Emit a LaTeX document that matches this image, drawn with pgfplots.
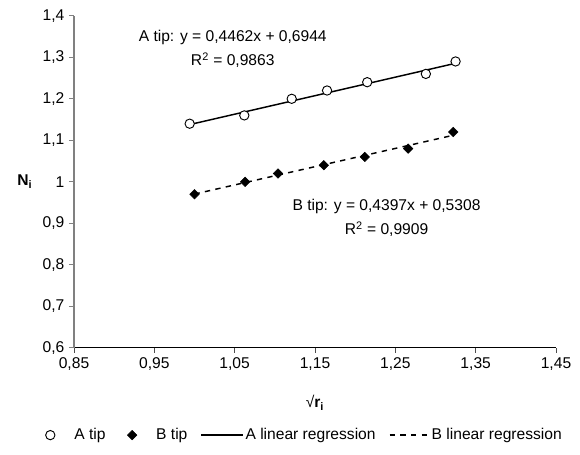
\documentclass[border=0pt]{standalone}
\usepackage{fontspec}
\setmainfont{Liberation Sans}
\usepackage{pgfplots}
\pgfplotsset{compat=1.18}

\newcommand{\chfont}{\fontsize{11.7}{14}\selectfont}

\pgfplotsset{
    markentry/.style={legend image code/.code={
        \path[draw=none, fill=none] (-10pt,-0.1pt) rectangle (17pt,0.1pt);
        \draw[##1] plot coordinates {(0pt,0pt)};
    }},
    lineentry/.style={legend image code/.code={
        \draw[##1] (0pt,0pt) -- (#1,0pt);
    }},
}

\begin{document}
\begin{tikzpicture}
\begin{axis}[
    at={(0pt,0pt)}, anchor=south west,
    scale only axis,
    width=361.5pt, height=249pt,
    xmin=0.85, xmax=1.45,
    ymin=0.6, ymax=1.4,
    xtick={0.85,0.95,1.05,1.15,1.25,1.35,1.45},
    ytick={0.6,0.7,0.8,0.9,1.0,1.1,1.2,1.3,1.4},
    axis x line*=bottom, axis y line*=left,
    x axis line style={black, line width=0.8pt},
    y axis line style={gray, line width=1pt},
    xtick style={black!70, line width=0.7pt},
    ytick style={gray, line width=0.7pt},
    tick align=outside,
    major tick length=3.75pt,
    minor tick num=0,
    /pgf/number format/assume math mode=true,
    /pgf/number format/use comma,
    xticklabel style={font=\chfont, /pgf/number format/fixed, /pgf/number format/precision=2},
    yticklabel style={font=\chfont, /pgf/number format/fixed, /pgf/number format/precision=1},
    xlabel={√\textbf{r}\textsubscript{\textbf{i}}},
    ylabel={\textbf{N}\textsubscript{\textbf{i}}},
    xlabel style={font=\chfont, at={(axis description cs:0.5,-0.166)}, anchor=center},
    ylabel style={font=\chfont, rotate=-90, at={(axis description cs:-0.102,0.5)}, anchor=center},
    legend columns=-1,
    legend style={
        at={(axis description cs:0.469,-0.263)}, anchor=center,
        draw=none, fill=none, font=\chfont,
        nodes={inner xsep=1pt, inner ysep=1pt},
        /tikz/every even column/.append style={column sep=9pt},
    },
]

% regression lines (end points from the fitted equations), drawn under the marks
\addplot[black, line width=1.1pt, no marks, forget plot]
coordinates {(0.994,1.1379) (1.325,1.2856)};
\addplot[black, line width=1.1pt, no marks, dash pattern=on 4pt off 4pt, forget plot]
coordinates {(1.000,0.9705) (1.322,1.1121)};

\addplot[only marks, mark=*, mark size=3.5pt,
    mark options={fill=white, draw=black, line width=0.7pt}, markentry]
coordinates {
(0.994,1.14) (1.062,1.16) (1.121,1.20) (1.165,1.22)
(1.215,1.24) (1.288,1.26) (1.325,1.29)
};
\addlegendentry{A tip}

\addplot[only marks, mark=square*, mark size=2.5pt,
    mark options={fill=black, draw=black, rotate=45}, markentry]
coordinates {
(1.000,0.97) (1.063,1.00) (1.104,1.02) (1.161,1.04)
(1.212,1.06) (1.266,1.08) (1.322,1.12)
};
\addlegendentry{B tip}

\addlegendimage{black, line width=1.1pt, no marks, lineentry=31.5pt}
\addlegendentry{A linear regression}
\addlegendimage{black, line width=1.1pt, no marks, dash pattern=on 4pt off 4pt, lineentry=30pt}
\addlegendentry{B linear regression}

\node[align=center, font=\fontsize{11.7}{18.4}\selectfont] at (axis cs:1.0476,1.32)
    {A tip: y = 0,4462x + 0,6944\\R\textsuperscript{2} = 0,9863};
\node[align=center, font=\fontsize{11.7}{18.4}\selectfont] at (axis cs:1.239,0.913)
    {B tip: y = 0,4397x + 0,5308\\R\textsuperscript{2} = 0,9909};

\end{axis}
% page size = 580x454 px at 0.75pt per px
\pgfresetboundingbox
\useasboundingbox (-55.5pt,-79.65pt) rectangle (379.5pt,260.85pt);
\end{tikzpicture}
\end{document}
